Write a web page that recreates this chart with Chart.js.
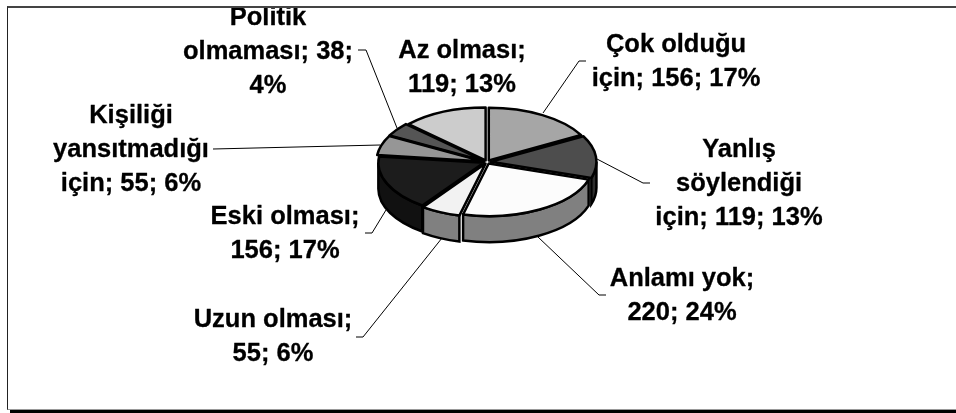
<!DOCTYPE html>
<html lang="tr">
<head>
<meta charset="utf-8">
<title>Pie chart</title>
<script src="https://cdn.jsdelivr.net/npm/chart.js@4"></script>
<style>
  html, body { margin: 0; background: #fff; overflow: hidden; }
  #frame {
    position: absolute; left: 7px; top: 6px; width: 970px; height: 401px;
    border-top: 2px solid #444; border-left: 1px solid #222; border-bottom: 1px solid #999;
    box-shadow: 3px 3px 0 #000;
  }
  canvas { display: block; }
</style>
</head>
<body>
<div id="frame"><canvas id="pie" width="948" height="401"></canvas></div>
<script>
// data
const categories = ['Çok olduğu için', 'Yanlış söylendiği için', 'Anlamı yok', 'Uzun olması', 'Eski olması', 'Kişiliği yansıtmadığı için', 'Politik olmaması', 'Az olması'];
const counts = [156, 119, 220, 55, 156, 55, 38, 119];

// one text block per slice, same order as categories
const labelLines = [
  ['Çok olduğu', 'için; 156; 17%'],
  ['Yanlış', 'söylendiği', 'için; 119; 13%'],
  ['Anlamı yok;', '220; 24%'],
  ['Uzun olması;', '55; 6%'],
  ['Eski olması;', '156; 17%'],
  ['Kişiliği', 'yansıtmadığı', 'için; 55; 6%'],
  ['Politik', 'olmaması; 38;', '4%'],
  ['Az olması;', '119; 13%']
];

// greys
const topColors = ['#a6a6a6', '#4d4d4d', '#fcfcfc', '#f2f2f2', '#1c1c1c', '#969696', '#555555', '#cccccc'];
const wallColors = ['#777777', '#2e2e2e', '#808080', '#808080', '#111111', '#666666', '#333333', '#999999'];

// label placement, page pixels: centre x and first baseline
const labelAnchors = [[676, 52], [739, 157], [682, 286], [273, 327], [285, 224], [131, 123], [268, 25], [462, 58]];
const lineGap = 34;

// leader lines, page pixels
const leaders = [
  [[586, 61], [579, 61], [543, 113]],
  [[650, 183], [643, 183], [597, 159]],
  [[606, 295], [599, 295], [538, 237]],
  [[356, 337], [363, 337], [442, 238]],
  [[365, 233], [372, 233], [386, 210]],
  [[213, 149], [380, 145]],
  [[358, 50], [366, 50], [397, 128]],
  []
];

const squash = 0.5;       // flattening of the disc
const wallDepth = 26;
const sliceOffset = 14;   // Chart.js moves an arc by offset / 4
const pageX = 8, pageY = 8;

// where the library really draws this arc
function arcShape(arc) {
  const o = arc.options.offset / 4;
  const half = (arc.startAngle + arc.endAngle) / 2;
  const fix = 1 - Math.sin(Math.min(Math.PI, arc.circumference));
  return {
    x: arc.x + Math.cos(half) * o,
    y: arc.y + Math.sin(half) * o * squash,
    r: arc.outerRadius + o * fix
  };
}

const pie3d = {
  id: 'pie3d',
  beforeDatasetsDraw(chart) {
    const ctx = chart.ctx;
    const arcs = chart.getDatasetMeta(0).data;
    arcs.forEach((arc, i) => {
      const a = Math.max(arc.startAngle, 0);
      const b = Math.min(arc.endAngle, Math.PI);
      if (b <= a) return;
      const s = arcShape(arc);
      ctx.beginPath();
      ctx.ellipse(s.x, s.y, s.r, s.r * squash, 0, a, b);
      ctx.ellipse(s.x, s.y + wallDepth, s.r, s.r * squash, 0, b, a, true);
      ctx.closePath();
      ctx.fillStyle = wallColors[i];
      ctx.fill();
      ctx.strokeStyle = '#000';
      ctx.lineWidth = 2.5;
      ctx.stroke();
    });
    const first = arcs[0];
    ctx.save();
    ctx.translate(first.x, first.y);
    ctx.scale(1, squash);
    ctx.translate(-first.x, -first.y);
  },
  afterDatasetsDraw(chart) {
    const ctx = chart.ctx;
    ctx.restore();
    // outlines go on after the squash so they keep an even width
    chart.getDatasetMeta(0).data.forEach(arc => {
      const s = arcShape(arc);
      ctx.beginPath();
      ctx.moveTo(s.x, s.y);
      ctx.ellipse(s.x, s.y, s.r, s.r * squash, 0, arc.startAngle, arc.endAngle);
      ctx.closePath();
      ctx.strokeStyle = '#000';
      ctx.lineWidth = 2.5;
      ctx.lineJoin = 'round';
      ctx.stroke();
    });
  },
  afterDraw(chart) {
    const ctx = chart.ctx;
    ctx.save();
    ctx.translate(-pageX, -pageY);
    ctx.strokeStyle = '#000';
    ctx.lineWidth = 1;
    leaders.forEach(pts => {
      if (!pts.length) return;
      ctx.beginPath();
      pts.forEach((p, k) => k ? ctx.lineTo(p[0], p[1]) : ctx.moveTo(p[0], p[1]));
      ctx.stroke();
    });
    ctx.fillStyle = '#000';
    ctx.font = 'bold 25.5px "Liberation Sans", Arial, sans-serif';
    ctx.textAlign = 'center';
    ctx.textBaseline = 'alphabetic';
    ctx.lineWidth = 0.3;
    labelLines.forEach((lines, i) => {
      lines.forEach((line, k) => {
        const y = labelAnchors[i][1] + k * lineGap;
        ctx.fillText(line, labelAnchors[i][0], y);
        ctx.strokeText(line, labelAnchors[i][0], y);
      });
    });
    ctx.restore();
  }
};

new Chart(document.getElementById('pie').getContext('2d'), {
  type: 'pie',
  data: {
    labels: categories,
    datasets: [{
      data: counts,
      backgroundColor: topColors,
      borderWidth: 0,
      offset: sliceOffset
    }]
  },
  options: {
    responsive: false,
    animation: false,
    radius: 105,
    layout: { padding: { left: 10, bottom: 93 } },
    plugins: {
      legend: { display: false },
      tooltip: { enabled: false }
    }
  },
  plugins: [pie3d]
});
</script>
</body>
</html>
